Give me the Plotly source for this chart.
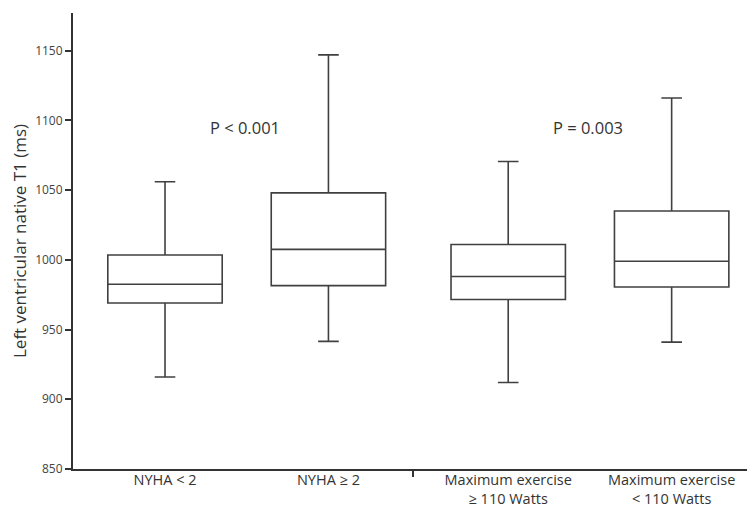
import plotly.graph_objects as go

# ---- data ----
categories = ["NYHA < 2", "NYHA ≥ 2", "Maximum exercise<br>≥ 110 Watts", "Maximum exercise<br>< 110 Watts"]
lower_whisker = [916, 941.5, 912, 941]
q1_values = [969, 981.5, 971.5, 980.5]
median_values = [982.5, 1007.5, 988, 999]
q3_values = [1003.5, 1048, 1011, 1035]
upper_whisker = [1056, 1147, 1070.5, 1116]
p_labels = ["P < 0.001", "P = 0.003"]
p_label_y = [1095, 1095]
y_ticks = [850, 900, 950, 1000, 1050, 1100, 1150]

# ---- layout constants ----
positions = [0, 1, 2.1, 3.1]
p_label_x = [0.49, 2.59]
divider_x = 1.52

FONT = "Open Sans, Lato, DejaVu Sans, sans-serif"
TEXT = "#333333"
LINE = "#404040"

fig = go.Figure()
for i, cat in enumerate(categories):
    fig.add_trace(go.Box(
        x=[positions[i]],
        q1=[q1_values[i]],
        median=[median_values[i]],
        q3=[q3_values[i]],
        lowerfence=[lower_whisker[i]],
        upperfence=[upper_whisker[i]],
        name=cat,
        width=0.7,
        whiskerwidth=0.18,
        fillcolor="white",
        line=dict(color=LINE, width=1.6),
        boxpoints=False,
        showlegend=False,
        hoverinfo="skip",
    ))

for txt, xx, yy in zip(p_labels, p_label_x, p_label_y):
    fig.add_annotation(x=xx, y=yy, xref="x", yref="y", text=txt, showarrow=False,
                       font=dict(family=FONT, size=16.5, color=TEXT))

# the page adds an 8px body margin, so the figure is sized/offset to compensate
fig.update_layout(
    width=747, height=501,
    margin=dict(l=65, r=0, t=5, b=40, autoexpand=False),
    paper_bgcolor="white", plot_bgcolor="white",
    font=dict(family=FONT, color=TEXT),
    xaxis=dict(
        range=[-0.563, 3.61],
        tickmode="array", tickvals=positions, ticktext=categories,
        ticks="", showgrid=False, zeroline=False,
        showline=True, linecolor="#333333", linewidth=2,
        tickfont=dict(size=14.5, color=TEXT),
        ticklabelstandoff=-3,
        automargin=False,
        minor=dict(tickmode="array", tickvals=[divider_x], ticks="outside",
                   ticklen=6, tickwidth=2, tickcolor="#333333", showgrid=False),
    ),
    yaxis=dict(
        range=[850, 1177],
        tickmode="array", tickvals=y_ticks,
        ticks="outside", ticklen=6, tickwidth=2, tickcolor="#333333",
        showgrid=False, zeroline=False,
        showline=True, linecolor="#333333", linewidth=2,
        tickfont=dict(size=12, color="#444444"),
        automargin=False,
        title=dict(text="Left ventricular native T1 (ms)", font=dict(size=17, color=TEXT), standoff=10),
    ),
)

fig.write_html("out.html")
